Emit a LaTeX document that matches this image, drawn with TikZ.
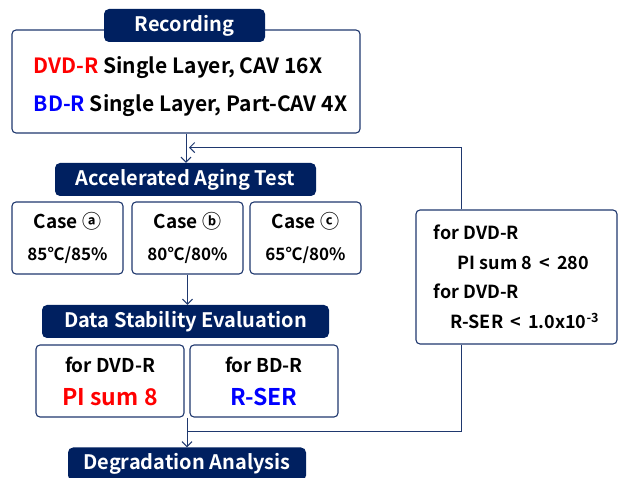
\documentclass[tikz,border=0pt]{standalone}
\usepackage{fontspec}
\setmainfont{Noto Sans CJK KR}[BoldFont={Noto Sans CJK KR Bold}]
\definecolor{titleNavy}{RGB}{0, 32, 96}
\definecolor{frameBlue}{RGB}{31, 56, 110}
\definecolor{dvdRed}{RGB}{255, 0, 0}
\definecolor{bdBlue}{RGB}{0, 0, 255}
\usetikzlibrary{arrows.meta,calc}

\begin{document}
\begin{tikzpicture}[x=1pt,y=-1pt,
    headbox/.style={rectangle,rounded corners=5pt,fill=titleNavy,text=white,
        font=\bfseries\fontsize{20}{20}\selectfont,minimum height=33pt,inner sep=0pt},
    panel/.style={rectangle,rounded corners=4pt,draw=frameBlue,line width=1.1pt,
        fill=white,inner sep=0pt,align=center},
    flow/.style={frameBlue,line width=1pt},
    flowarrow/.style={flow,-{Straight Barb[length=5pt,width=10pt]}}]
    \useasboundingbox (0,0) rectangle (619,478);
    \clip (0,0) rectangle (619,478);

    % Recording stage
    \node[panel,minimum width=348pt,minimum height=103pt] (rec) at (186,81.5) {};
    \node[align=left,inner sep=0pt,font=\bfseries\fontsize{21}{38}\selectfont] (recText) at (190.5,87)
        {\textcolor{dvdRed}{DVD-R} Single Layer, CAV 16X\\
         \textcolor{bdBlue}{BD-R} Single Layer, Part-CAV 4X};
    \node[headbox,minimum width=161pt] (recTitle) at (184.5,25.5) {Recording};

    % Aging test cases
    \node[headbox,minimum width=261pt] (aging) at (185.5,179.5) {Accelerated Aging Test};
    \foreach \n/\x/\c/\t in {a/67.5/ⓐ/{85℃/85\%}, b/187.5/ⓑ/{80℃/80\%}, c/305.5/ⓒ/{65℃/80\%}} {
        \node[panel,minimum width=111pt,minimum height=72pt,
            font=\bfseries\fontsize{17}{32}\selectfont] (case\n) at (\x,238)
            {{\fontsize{19}{32}\selectfont Case \c}\\\t};
    }

    % Evaluation
    \node[headbox,minimum width=287pt] (stability) at (185.5,321.5) {Data Stability Evaluation};
    \node[panel,minimum width=148pt,minimum height=72pt,
        font=\bfseries\fontsize{19}{33}\selectfont] (dvdEval) at (110,381)
        {for DVD-R\\{\fontsize{23}{33}\selectfont\color{dvdRed}PI sum 8}};
    \node[panel,minimum width=148pt,minimum height=72pt,
        font=\bfseries\fontsize{19}{33}\selectfont] (bdEval) at (264,381)
        {for BD-R\\{\fontsize{23}{33}\selectfont\color{bdBlue}R-SER}};

    % Criteria on the loop
    \node[panel,minimum width=201pt,minimum height=134pt,align=left,
        font=\bfseries\fontsize{18}{29.5}\selectfont] (criteria) at (516.5,277)
        {for DVD-R\\\hspace*{24pt}PI sum 8 \,<\, 280\\for DVD-R\\
         \hspace*{17pt}R-SER \,<\, 1.0x10\textsuperscript{-3}};

    \node[headbox,minimum width=238pt] (degrade) at (187,464) {Degradation Analysis};

    % connectors
    \coordinate (split) at ($(dvdEval.south east)!0.5!(bdEval.south west)$);
    \coordinate (merge) at ($(split)+(0,14)$);
    \coordinate (rejoin) at ($(rec.south)+(3,14)$);
    \coordinate (loopTop) at ($(criteria.north west)!0.23!(criteria.north east)$);
    \coordinate (loopBot) at ($(criteria.south west)!0.23!(criteria.south east)$);
    \draw[flowarrow] (rec.south) -- (rec.south |- aging.north);
    \draw[flowarrow] (caseb.south) -- (caseb.south |- stability.north);
    \draw[flowarrow] (split) -- (split |- degrade.north);
    \draw[flow] (loopBot) |- (merge);
    \draw[flowarrow] (loopTop) |- (rejoin);
\end{tikzpicture}
\end{document}
